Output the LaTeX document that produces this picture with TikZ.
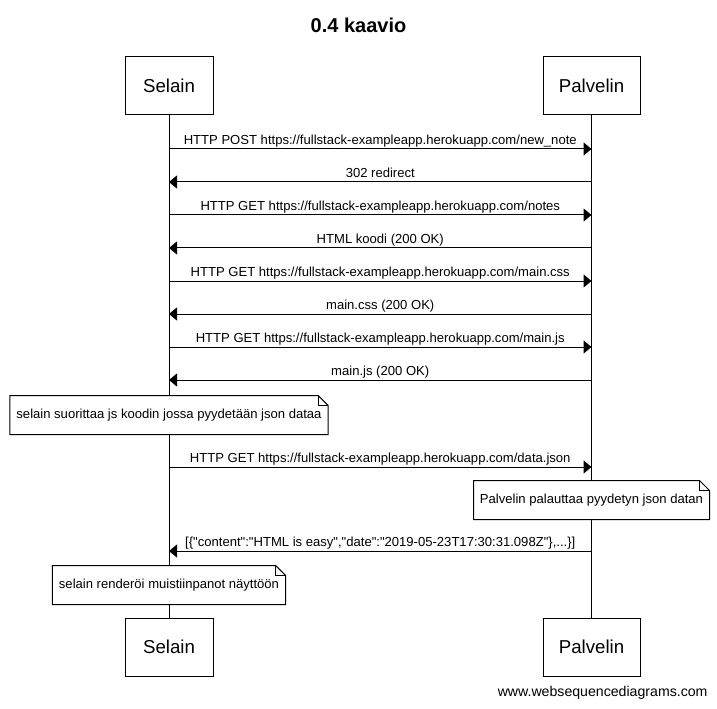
\documentclass[tikz,border=0pt]{standalone}
\usepackage{fontspec}
\setmainfont{Liberation Sans}
\newfontfamily\plainsans{Liberation Sans}
\usetikzlibrary{arrows.meta,positioning,calc}

% note with a folded corner, drawn round a named node
\newcommand{\notefold}[1]{%
\draw[line width=0.75pt] (#1.south west) -- (#1.north west) -- ([xshift=-7.5pt]#1.north east)
  -- ([yshift=-7.5pt]#1.north east) -- (#1.south east) -- cycle;
\draw[line width=0.75pt] ([xshift=-7.5pt]#1.north east) |- ([yshift=-7.5pt]#1.north east);
}

\begin{document}
\begin{tikzpicture}[x=0.75pt,y=-0.75pt,line width=0.75pt,
  >={Triangle[length=6pt,width=9.75pt]},
  actor/.style={draw,fill=white,minimum height=43.5pt,inner sep=0pt,font=\plainsans\fontsize{14}{16}\selectfont},
  msg/.style={->},
  msglabel/.style={anchor=base,yshift=3.4pt,inner sep=0pt,font=\plainsans\fontsize{9.8}{12}\selectfont},
  note/.style={fill=white,minimum height=28.5pt,inner xsep=4.5pt,inner ysep=0pt,font=\plainsans\fontsize{9.8}{12}\selectfont}]
\useasboundingbox (0,0) rectangle (717,709);

% title
\node[font=\plainsans\bfseries\fontsize{15}{18}\selectfont] (title) at (358.5,25) {0.4 kaavio};

% actors
\node[actor,minimum width=66pt] (selain) at (169,86) {Selain};
\node[actor,minimum width=72.75pt] (palvelin) at (591.5,86) {Palvelin};
\node[actor,minimum width=66pt] (selainb) at (169,647) {Selain};
\node[actor,minimum width=72.75pt] (palvelinb) at (591.5,647) {Palvelin};

% lifelines
\draw (selain) -- (selainb);
\draw (palvelin) -- (palvelinb);

% points on the lifelines
\foreach \i/\y in {1/149,2/182,3/215,4/248,5/281,6/314,7/347,8/380,9/467,10/551}{
  \coordinate (s\i) at (selain |- 0,\y);
  \coordinate (p\i) at (palvelin |- 0,\y);
}

% messages
\draw[msg] (s1) -- node[msglabel] {HTTP POST https://fullstack-exampleapp.herokuapp.com/new\_note} (p1);
\draw[msg] (p2) -- node[msglabel] {302 redirect} (s2);
\draw[msg] (s3) -- node[msglabel] {HTTP GET https://fullstack-exampleapp.herokuapp.com/notes} (p3);
\draw[msg] (p4) -- node[msglabel] {HTML koodi (200 OK)} (s4);
\draw[msg] (s5) -- node[msglabel] {HTTP GET https://fullstack-exampleapp.herokuapp.com/main.css} (p5);
\draw[msg] (p6) -- node[msglabel] {main.css (200 OK)} (s6);
\draw[msg] (s7) -- node[msglabel] {HTTP GET https://fullstack-exampleapp.herokuapp.com/main.js} (p7);
\draw[msg] (p8) -- node[msglabel] {main.js (200 OK)} (s8);
\draw[msg] (s9) -- node[msglabel] {HTTP GET https://fullstack-exampleapp.herokuapp.com/data.json} (p9);
\draw[msg] (p10) -- node[msglabel] {[\{"content":"HTML is easy","date":"2019-05-23T17:30:31.098Z"\},...\}]} (s10);

% notes
\node[note] (note1) at (selain |- 0,415) {selain suorittaa js koodin jossa pyydetään json dataa};
\notefold{note1}
\node[note] (note2) at (palvelin |- 0,500) {Palvelin palauttaa pyydetyn json datan};
\notefold{note2}
\node[note] (note3) at (selain |- 0,585) {selain renderöi muistiinpanot näyttöön};
\notefold{note3}

% footer
\node[anchor=east,inner sep=0pt,font=\plainsans\fontsize{10.6}{13}\selectfont] (footer) at (708,693) {www.websequencediagrams.com};
\end{tikzpicture}
\end{document}
